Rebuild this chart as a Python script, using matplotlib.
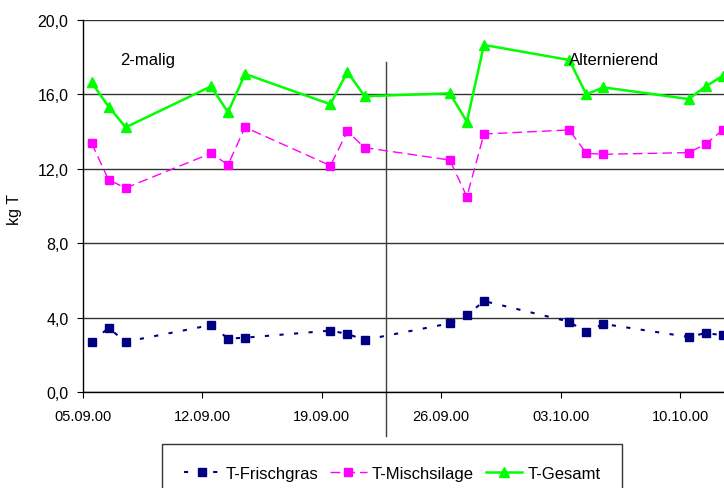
import pandas as pd
import matplotlib
matplotlib.use("Agg")
import matplotlib.pyplot as plt

plt.rcParams["font.family"] = ["Liberation Sans", "DejaVu Sans"]

dates = ["2000-09-05", "2000-09-06", "2000-09-07",
         "2000-09-12", "2000-09-13", "2000-09-14",
         "2000-09-19", "2000-09-20", "2000-09-21",
         "2000-09-26", "2000-09-27", "2000-09-28",
         "2000-10-03", "2000-10-04", "2000-10-05",
         "2000-10-10", "2000-10-11", "2000-10-12"]
frischgras = [2.70, 3.44, 2.70, 3.60, 2.87, 2.92, 3.30, 3.12, 2.80,
              3.69, 4.12, 4.89, 3.78, 3.21, 3.66, 2.96, 3.17, 3.05]
mischsilage = [13.39, 11.40, 10.97, 12.83, 12.22, 14.23, 12.17, 14.02, 13.14,
               12.47, 10.50, 13.87, 14.09, 12.83, 12.78, 12.87, 13.33, 14.09]
gesamt = [16.65, 15.34, 14.23, 16.43, 15.04, 17.10, 15.47, 17.22, 15.90,
          16.06, 14.53, 18.66, 17.85, 16.00, 16.38, 15.75, 16.43, 17.00]
tick_dates = pd.date_range("2000-09-05", periods=6, freq="7D")
y_ticks = [0, 4, 8, 12, 16, 20]

# points sit in the middle of each day, ticks on the day boundaries
x = pd.to_datetime(dates) + pd.Timedelta(hours=12)
start = pd.Timestamp("2000-09-05")
end = start + pd.Timedelta(days=37.57)
split = pd.Timestamp("2000-09-22 18:15")

fig = plt.figure(figsize=(7.24, 4.89), dpi=100)
ax = fig.add_axes([83 / 724, 96 / 489, 641 / 724, 372 / 489])

ax.plot(x, frischgras, color="#000080", lw=1.5, dashes=(2, 5),
        marker="s", ms=6.4, label="T-Frischgras", clip_on=False, zorder=3)
ax.plot(x, mischsilage, color="#FF00FF", lw=1.0, dashes=(7, 3.6),
        marker="s", ms=5.6, label="T-Mischsilage", clip_on=False, zorder=3)
ax.plot(x, gesamt, color="#00FF00", lw=1.8, marker="^", ms=6.5,
        label="T-Gesamt", clip_on=False, zorder=3)

# divider between the two feeding phases
ax.plot([split, split], [-2.37, 17.74], color="#404040", lw=1,
        clip_on=False, scalex=False, scaley=False)

ax.set_xlim(start, end)
ax.set_ylim(0, 20)
ax.set_xticks(tick_dates)
ax.set_xticklabels([d.strftime("%d.%m.%y") for d in tick_dates])
ax.set_yticks(y_ticks)
ax.set_yticklabels([f"{v:.1f}".replace(".", ",") for v in y_ticks])
ax.tick_params(axis="both", direction="out", color="black")
ax.tick_params(axis="y", length=4.5, pad=6, labelsize=11.5)
ax.tick_params(axis="x", length=4, pad=8, labelsize=10.5)

ax.yaxis.grid(True, color="#333333", lw=1)
ax.set_axisbelow(True)
for side in ("top", "right"):
    ax.spines[side].set_visible(False)
for side in ("left", "bottom"):
    ax.spines[side].set_color("black")
    ax.spines[side].set_linewidth(1)

ax.text(pd.Timestamp("2000-09-07 04:00"), 17.85, "2-malig",
        fontsize=12, va="center")
ax.text(pd.Timestamp("2000-10-03 12:00"), 17.85, "Alternierend",
        fontsize=12, va="center")

fig.text(15 / 724, 1 - 210 / 489, "kg T", rotation=90, fontsize=11.5,
         ha="center", va="center")

leg = ax.legend(loc="upper left", ncol=3, mode="expand",
                bbox_to_anchor=(162 / 724, 1 - 450 / 489, 460 / 724, 0.01),
                bbox_transform=fig.transFigure, fontsize=12,
                frameon=True, fancybox=False, borderpad=1.3,
                borderaxespad=0, handlelength=2.2, handletextpad=0.3,
                columnspacing=1.5)
leg.get_frame().set_edgecolor("black")
leg.get_frame().set_linewidth(1)

fig.savefig("out.png", dpi=100)
